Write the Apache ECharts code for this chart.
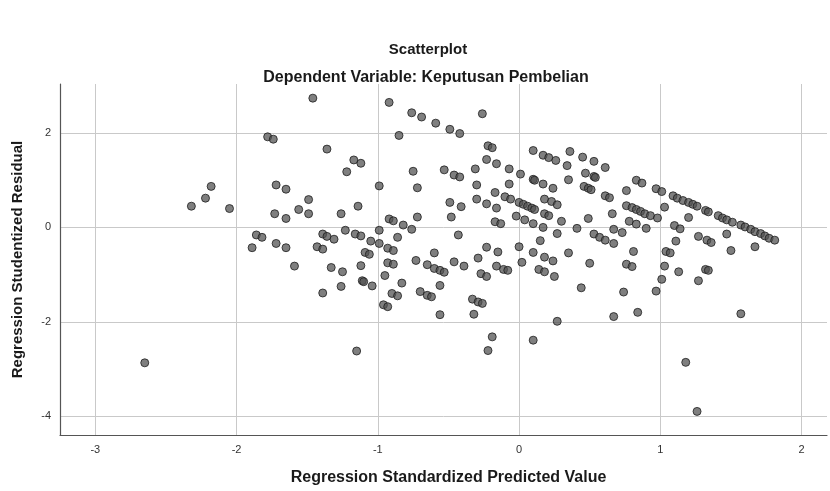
<!DOCTYPE html>
<html>
<head>
<meta charset="utf-8">
<script src="https://cdn.jsdelivr.net/npm/echarts@6/dist/echarts.min.js"></script>
<style>html,body{margin:0;padding:0;background:#fff}#c{width:830px;height:491px}</style>
</head>
<body>
<div id="c"></div>
<script>
// Regression Standardized Predicted Value (x)
const predicted = [
-2.65,-2.32,-2.22,-2.18,-2.05,-1.86,-1.89,-1.46,-0.92,-1.78,-1.74,-1.36,-1.17,-1.12,-1.22,-0.99,-1.72,-1.65,-1.49,-1.56,
-1.49,-1.14,-1.26,-1.73,-1.65,-0.92,-1.82,-1.72,-1.65,-1.39,-1.36,-1.31,-1.23,-1.16,-1.12,-0.99,-1.05,-0.99,-0.93,-1.43,
-1.39,-1.09,-1.06,-1.59,-1.33,-1.25,-1.12,-0.93,-0.95,-1.11,-1.10,-1.04,-1.26,-1.39,-0.96,-0.93,-1.15,-0.76,-0.69,-0.59,
-0.49,-0.42,-0.26,-0.85,-0.22,-0.19,-0.23,-0.16,-0.07,-0.31,-0.75,-0.53,-0.46,-0.42,-0.72,-0.30,-0.07,-0.17,-0.10,-0.06,
-0.30,-0.23,-0.16,-0.49,-0.41,-0.72,-0.48,-0.02,-0.17,-0.13,-0.89,-0.82,-0.76,-0.86,-0.43,-0.89,-0.60,-0.23,-0.15,-0.89,
-0.83,-0.90,-0.86,-0.73,-0.65,-0.60,-0.56,-0.53,-0.46,-0.39,-0.29,-0.27,-0.23,-0.16,-0.11,-0.08,-0.56,-0.70,-0.65,-0.62,
-0.33,-0.29,-0.26,-0.56,-0.32,-0.19,-0.22,0.10,0.17,0.21,0.26,0.36,0.34,0.45,0.53,0.61,0.01,0.47,0.53,0.54,
0.35,0.10,0.11,0.17,0.24,0.46,0.49,0.51,0.61,0.64,0.76,0.83,0.87,0.97,0.00,0.03,0.06,0.09,0.11,0.18,
0.23,0.27,0.04,0.10,0.17,0.18,0.21,0.30,0.27,0.41,0.49,0.66,0.76,0.80,0.83,0.86,0.89,0.93,0.98,0.78,
0.83,0.90,0.67,0.73,0.53,0.57,0.61,0.67,0.15,0.00,0.10,0.18,0.35,0.81,0.24,0.02,0.14,0.18,0.25,0.50,
0.76,0.80,0.97,0.74,0.44,0.84,0.67,0.27,0.10,1.01,1.09,1.12,1.16,1.20,1.23,1.26,1.32,1.34,1.03,1.20,
1.41,1.44,1.47,1.51,1.57,1.60,1.64,1.67,1.71,1.74,1.77,1.81,1.10,1.14,1.27,1.47,1.33,1.36,1.11,1.67,
1.50,1.04,1.07,1.03,1.01,1.13,1.32,1.34,1.27,1.57,1.18,1.26
];
// Regression Studentized Residual (y)
const residual = [
-2.87,0.45,0.62,0.87,0.40,-0.16,-0.43,2.74,2.65,1.92,1.87,1.66,1.43,1.36,1.18,0.88,0.90,0.81,0.59,0.38,
0.29,0.45,0.29,0.29,0.19,0.18,-0.21,-0.34,-0.43,-0.14,-0.19,-0.25,-0.06,-0.14,-0.18,-0.06,-0.29,-0.34,-0.44,-0.41,
-0.46,-0.53,-0.57,-0.82,-0.85,-0.94,-0.81,-0.75,-1.02,-1.13,-1.15,-1.24,-1.25,-1.39,-1.64,-1.68,-2.62,2.43,2.34,2.21,
2.08,1.99,2.41,1.95,1.73,1.69,1.44,1.35,1.24,1.24,1.19,1.22,1.11,1.07,0.84,0.90,0.92,0.74,0.65,0.60,
0.60,0.50,0.41,0.53,0.44,0.22,0.22,0.24,0.12,0.08,0.14,0.05,-0.04,-0.21,-0.16,-0.49,-0.54,-0.42,-0.52,-0.78,
-1.18,-1.40,-1.45,-0.70,-0.79,-0.87,-0.91,-0.95,-0.73,-0.82,-0.65,-0.98,-1.04,-0.82,-0.89,-0.91,-1.23,-1.36,-1.44,-1.47,
-1.52,-1.58,-1.61,-1.85,-1.84,-2.32,-2.61,1.63,1.53,1.48,1.42,1.61,1.31,1.49,1.40,1.27,1.13,1.15,1.08,1.06,
1.01,1.02,1.00,0.92,0.83,0.87,0.83,0.80,0.67,0.63,0.78,1.00,0.94,0.82,0.53,0.49,0.45,0.41,0.38,0.60,
0.55,0.48,0.16,0.08,0.00,0.29,0.25,0.13,-0.13,-0.02,0.19,0.29,0.46,0.42,0.38,0.34,0.29,0.25,0.20,0.13,
0.07,-0.02,-0.04,-0.11,-0.14,-0.21,-0.27,-0.34,-0.28,-0.41,-0.53,-0.63,-0.54,-0.51,-0.71,-0.74,-0.89,-0.94,-1.04,-0.76,
-0.78,-0.83,-1.35,-1.37,-1.28,-1.80,-1.89,-1.99,-2.39,0.76,0.67,0.62,0.57,0.53,0.49,0.45,0.36,0.33,0.43,0.21,
0.25,0.20,0.16,0.11,0.05,0.01,-0.04,-0.09,-0.13,-0.18,-0.23,-0.27,0.04,-0.03,-0.19,-0.14,-0.27,-0.32,-0.29,-0.41,
-0.49,-0.51,-0.54,-0.82,-1.10,-0.94,-0.89,-0.91,-1.13,-1.83,-2.86,-3.90
];
const xTickLabels = [-3, -2, -1, 0, 1, 2];
const yTickLabels = [-4, -2, 0, 2];

const points = predicted.map((v, i) => [v, residual[i]]);
const FONT = '"Liberation Sans", Arial, sans-serif';
const GRID = '#c9c9c9';
const T = 'rgba(0,0,0,0)';
const isLabel = (list, v) => list.some(t => Math.abs(t - v) < 1e-6);

const chart = echarts.init(document.getElementById('c'), null, {renderer: 'canvas'});
chart.setOption({
  animation: false,
  backgroundColor: '#ffffff',
  title: [
    {text: 'Scatterplot', left: 423, top: 37, textAlign: 'center',
     textStyle: {fontFamily: FONT, fontSize: 15, fontWeight: 'bold', color: '#1a1a1a'}},
    {text: 'Dependent Variable: Keputusan Pembelian', left: 421, top: 65, textAlign: 'center',
     textStyle: {fontFamily: FONT, fontSize: 16, fontWeight: 'bold', color: '#1a1a1a'}}
  ],
  grid: {left: 60, right: 2, top: 84, bottom: 43, containLabel: false},
  xAxis: {
    type: 'value', min: -3.25, max: 2.18, interval: 0.25,
    name: 'Regression Standardized Predicted Value', nameLocation: 'middle', nameGap: 35,
    nameTextStyle: {fontFamily: FONT, fontSize: 16, fontWeight: 'bold', color: '#1a1a1a', padding: [0, 0, 0, 10]},
    axisLine: {show: true, onZero: false, lineStyle: {color: '#555', width: 1.2}},
    axisTick: {show: false},
    axisLabel: {fontFamily: FONT, fontSize: 11, color: '#333', margin: 9,
      formatter: v => isLabel(xTickLabels, v) ? String(Math.round(v)) : ''},
    splitLine: {show: true, lineStyle: {color: [T, GRID, T, T], width: 1}}
  },
  yAxis: {
    type: 'value', min: -4.4, max: 3.04, interval: 0.2,
    name: 'Regression Studentized Residual', nameLocation: 'middle', nameGap: 35,
    nameTextStyle: {fontFamily: FONT, fontSize: 15, fontWeight: 'bold', color: '#1a1a1a'},
    axisLine: {show: true, onZero: false, lineStyle: {color: '#555', width: 1.2}},
    axisTick: {show: false},
    axisLabel: {fontFamily: FONT, fontSize: 11, color: '#333', margin: 9,
      formatter: v => isLabel(yTickLabels, v) ? String(Math.round(v)) : ''},
    splitLine: {show: true, lineStyle: {color: [T, T, GRID, T, T, T, T, T, T, T], width: 1}}
  },
  series: [{
    type: 'scatter',
    data: points,
    symbol: 'circle',
    symbolSize: 8,
    itemStyle: {color: 'rgba(82,82,82,0.92)', borderColor: '#1e1e1e', borderWidth: 1}
  }]
});
</script>
</body>
</html>
